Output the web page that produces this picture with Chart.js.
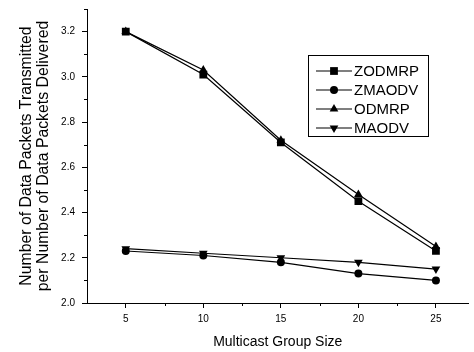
<!DOCTYPE html>
<html lang="en">
<head>
    <meta charset="UTF-8">
    <title>Multicast Group Size</title>
    <script src="https://cdn.jsdelivr.net/npm/chart.js"></script>
    <style>
        html, body { margin: 0; padding: 0; background: #fff; overflow: hidden; }
        #wrap { width: 474px; height: 352px; }
    </style>
</head>
<body>
    <div id="wrap"><canvas id="chart" width="474" height="352"></canvas></div>

    <script>
        // data
        const groupSizes = [5, 10, 15, 20, 25];
        const zodmrp = [3.20, 3.01, 2.71, 2.45, 2.23];
        const zmaodv = [2.23, 2.21, 2.18, 2.13, 2.10];
        const odmrp  = [3.20, 3.03, 2.72, 2.48, 2.25];
        const maodv  = [2.24, 2.22, 2.20, 2.18, 2.15];

        const xTicks = [5, 10, 15, 20, 25];
        const xMinorTicks = [7.5, 12.5, 17.5, 22.5];
        const yTicks = [2.0, 2.2, 2.4, 2.6, 2.8, 3.0, 3.2];
        const yMinorTicks = [2.1, 2.3, 2.5, 2.7, 2.9, 3.1, 3.3];

        const seriesNames = ["ZODMRP", "ZMAODV", "ODMRP", "MAODV"];
        const seriesValues = [zodmrp, zmaodv, odmrp, maodv];
        const markers = [
            { style: "rect", radius: 5.5, rotation: 0 },
            { style: "circle", radius: 4, rotation: 0 },
            { style: "triangle", radius: 5, rotation: 0 },
            { style: "triangle", radius: 5, rotation: 180 }
        ];

        const font = "'Liberation Sans', Arial, sans-serif";

        const datasets = seriesNames.map((name, i) => ({
            label: name,
            data: groupSizes.map((x, j) => ({ x: x, y: seriesValues[i][j] })),
            borderColor: "#000",
            backgroundColor: "#000",
            borderWidth: 1.2,
            pointStyle: markers[i].style,
            pointRadius: markers[i].radius,
            pointRotation: markers[i].rotation,
            pointBackgroundColor: "#000",
            pointBorderColor: "#000",
            pointBorderWidth: 0,
            tension: 0
        }));

        // short minor tick marks + the boxed legend
        const extras = {
            id: "extras",
            afterDraw(chart) {
                const ctx = chart.ctx;
                const xs = chart.scales.x, ys = chart.scales.y;
                const area = chart.chartArea;
                ctx.save();
                ctx.strokeStyle = "#000";
                ctx.lineWidth = 1;
                ctx.beginPath();
                xMinorTicks.forEach(v => {
                    const px = Math.round(xs.getPixelForValue(v)) + 0.5;
                    ctx.moveTo(px, area.bottom);
                    ctx.lineTo(px, area.bottom + 3);
                });
                yMinorTicks.forEach(v => {
                    const py = Math.round(ys.getPixelForValue(v)) + 0.5;
                    ctx.moveTo(area.left, py);
                    ctx.lineTo(area.left - 3, py);
                });
                ctx.stroke();

                // legend
                const bx = 308.5, by = 55.5, bw = 120, bh = 81;
                ctx.fillStyle = "#fff";
                ctx.fillRect(bx, by, bw, bh);
                ctx.strokeRect(bx, by, bw, bh);
                ctx.font = "15px " + font;
                ctx.textBaseline = "middle";
                seriesNames.forEach((name, i) => {
                    const y = 71 + i * 19;
                    ctx.strokeStyle = "#000";
                    ctx.lineWidth = 1.2;
                    ctx.beginPath();
                    ctx.moveTo(316, y);
                    ctx.lineTo(352, y);
                    ctx.stroke();
                    ctx.fillStyle = "#000";
                    Chart.helpers.drawPoint(ctx, {
                        pointStyle: markers[i].style,
                        radius: markers[i].radius,
                        rotation: markers[i].rotation,
                        borderWidth: 0
                    }, 334, y);
                    ctx.fillStyle = "#000";
                    ctx.fillText(name, 354, y + 1);
                });
                ctx.restore();
            }
        };

        new Chart(document.getElementById("chart").getContext("2d"), {
            type: "line",
            data: { datasets: datasets },
            options: {
                responsive: false,
                animation: false,
                devicePixelRatio: 1,
                layout: { padding: { left: 0, right: 0, top: 9, bottom: 0 } },
                plugins: { legend: { display: false }, tooltip: { enabled: false } },
                scales: {
                    x: {
                        type: "linear",
                        min: 2.5,
                        max: 27.1,
                        afterBuildTicks: s => { s.ticks = xTicks.map(v => ({ value: v })); },
                        afterFit: s => { s.height = 49; s.paddingLeft = 0; s.paddingRight = 0; },
                        grid: { drawOnChartArea: false, tickLength: 5, color: "#000" },
                        border: { color: "#000", width: 1 },
                        ticks: { color: "#000", font: { family: font, size: 10 }, padding: 5, maxRotation: 0 },
                        title: {
                            display: true,
                            text: "Multicast Group Size",
                            color: "#000",
                            font: { family: font, size: 14 },
                            padding: { top: 4, bottom: 1 }
                        }
                    },
                    y: {
                        min: 2.0,
                        max: 3.3,
                        afterBuildTicks: s => { s.ticks = yTicks.map(v => ({ value: v })); },
                        afterFit: s => { s.width = 87; s.paddingTop = 0; s.paddingBottom = 0; },
                        grid: { drawOnChartArea: false, tickLength: 5, color: "#000" },
                        border: { color: "#000", width: 1 },
                        ticks: {
                            color: "#000",
                            font: { family: font, size: 10 },
                            padding: 7,
                            callback: v => v.toFixed(1)
                        },
                        title: {
                            display: true,
                            text: ["Number of Data Packets Transmitted", "per Number of Data Packets Delivered"],
                            color: "#000",
                            font: { family: font, size: 15.8, lineHeight: 1.1 },
                            padding: { top: 18, bottom: 0 }
                        }
                    }
                }
            },
            plugins: [extras]
        });
    </script>
</body>
</html>
